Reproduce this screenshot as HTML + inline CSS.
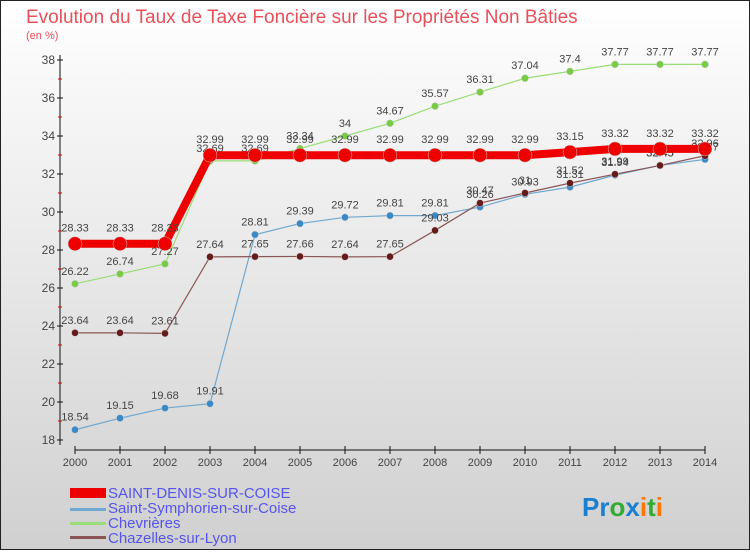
<!DOCTYPE html>
<html><head><meta charset="utf-8"><style>
body{margin:0;width:750px;height:550px;overflow:hidden;font-family:"Liberation Sans",sans-serif}
</style></head><body>
<svg id="c" width="750" height="550" xmlns="http://www.w3.org/2000/svg">
<defs><linearGradient id="bg" x1="0" y1="0" x2="0" y2="1"><stop offset="0" stop-color="#ffffff"/><stop offset="1" stop-color="#d0d0d0"/></linearGradient></defs>
<rect x="0.5" y="0.5" width="749" height="549" fill="url(#bg)" stroke="#222"/>
<text x="26" y="23" font-size="19" fill="#e8505a">Evolution du Taux de Taxe Foncière sur les Propriétés Non Bâties</text>
<text x="26" y="39" font-size="11" fill="#e8505a">(en %)</text>
<g id="axes"></g><g id="series"></g>
<g font-size="15" fill="#5555ee">
<rect x="70" y="488" width="36" height="10" fill="#ee0000"/>
<text x="108" y="498">SAINT-DENIS-SUR-COISE</text>
<rect x="70" y="508" width="36" height="3" fill="#6fa8d0"/>
<text x="108" y="513">Saint-Symphorien-sur-Coise</text>
<rect x="70" y="522" width="36" height="3" fill="#99dd77"/>
<text x="108" y="528">Chevrières</text>
<rect x="70" y="536" width="36" height="3" fill="#8b5555"/>
<text x="108" y="543">Chazelles-sur-Lyon</text>
</g>
<text x="582" y="516" font-size="26" font-weight="bold"><tspan fill="#1a7fd0">Pr</tspan><tspan fill="#33aa33">o</tspan><tspan fill="#1a7fd0">x</tspan><tspan fill="#ff7700">i</tspan><tspan fill="#33aa33">t</tspan><tspan fill="#ff7700">i</tspan></text>
</svg>
<script>
const years=[2000,2001,2002,2003,2004,2005,2006,2007,2008,2009,2010,2011,2012,2013,2014];
const yTicks=[18,20,22,24,26,28,30,32,34,36,38];
const stDenis=[28.33,28.33,28.33,32.99,32.99,32.99,32.99,32.99,32.99,32.99,32.99,33.15,33.32,33.32,33.32];
const stSymph=[18.54,19.15,19.68,19.91,28.81,29.39,29.72,29.81,29.81,30.26,30.93,31.31,31.94,32.45,32.77];
const chevrieres=[26.22,26.74,27.27,32.69,32.69,33.34,34,34.67,35.57,36.31,37.04,37.4,37.77,37.77,37.77];
const chazelles=[23.64,23.64,23.61,27.64,27.65,27.66,27.64,27.65,29.03,30.47,31,31.52,31.99,32.45,32.96];
const NS="http://www.w3.org/2000/svg";
const xs=i=>75+i*45, ys=v=>60+(38-v)*19;
function mk(t,a,p){const e=document.createElementNS(NS,t);for(const k in a)e.setAttribute(k,a[k]);p.appendChild(e);return e;}
const ax=document.getElementById('axes');
let l=mk('line',{x1:60,y1:55,x2:60,y2:445,stroke:'#111'},ax);


l=mk('line',{x1:75,y1:450,x2:705,y2:450,stroke:'#111'},ax);


yTicks.forEach(v=>{
 const t=mk('text',{x:55,y:ys(v)+4,'font-size':12,'text-anchor':'end',fill:'#444'},ax);t.textContent=v;
 
 
 mk('line',{x1:57,y1:ys(v),x2:63,y2:ys(v),stroke:'#111'},ax);
 if(v<38)mk('line',{x1:58,y1:ys(v+1),x2:62,y2:ys(v+1),stroke:'#d00'},ax);
});
years.forEach((y,i)=>{
 mk('line',{x1:xs(i),y1:446,x2:xs(i),y2:454,stroke:'#111'},ax);
 const t=mk('text',{x:xs(i),y:466,'font-size':11,'text-anchor':'middle',fill:'#444'},ax);t.textContent=y;
 
 
});
const sg=document.getElementById('series');
function draw(vals,color,w,r,name,dot){
 const g=mk('g',{},sg);
 
 
 mk('polyline',{points:vals.map((v,i)=>xs(i)+','+ys(v)).join(' '),fill:'none',stroke:color,'stroke-width':w},g);
 vals.forEach((v,i)=>{
  const c=mk('circle',{cx:xs(i),cy:ys(v),r:r,fill:dot,stroke:'#ccc','stroke-width':0.5},g);
  
  
  const t=mk('text',{x:xs(i),y:ys(v)-9-(r>5?3:0),'font-size':11,'text-anchor':'middle',fill:'#444'},g);t.textContent=v;
  
  
 });
}
draw(stSymph,'#6fa8d0',1.2,3.5,'series-saint-symphorien','#3a8ac8');
draw(chevrieres,'#99dd77',1.2,3.5,'series-chevrieres','#77cc44');
draw(chazelles,'#8b5555',1.2,3.5,'series-chazelles','#661a1a');
draw(stDenis,'#ee0000',8,7,'series-saint-denis','#ee0000');
</script>
</body></html>
